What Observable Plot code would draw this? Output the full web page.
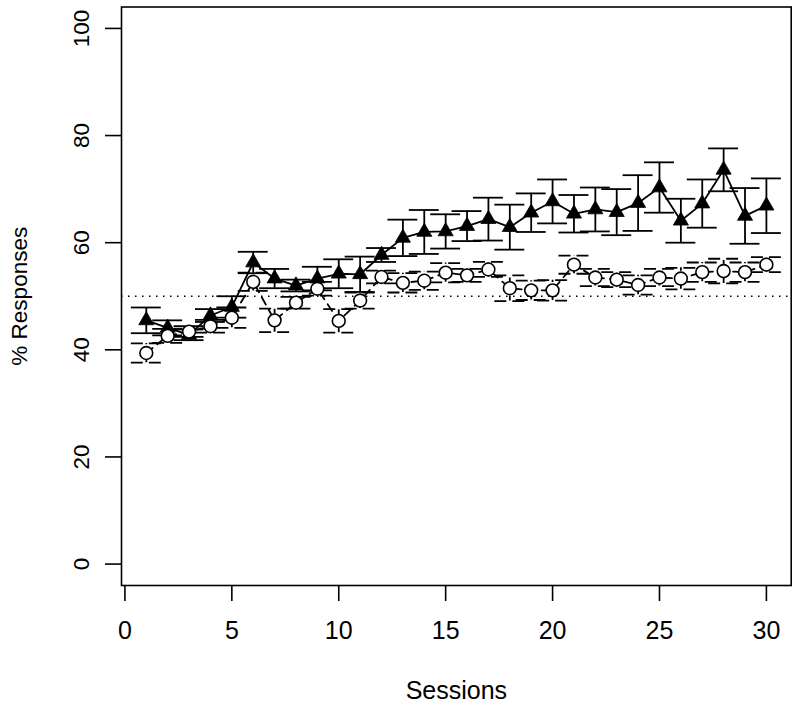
<!DOCTYPE html>
<html>
<head>
<meta charset="utf-8">
<script src="https://cdn.jsdelivr.net/npm/d3@7"></script>
<script src="https://cdn.jsdelivr.net/npm/@observablehq/plot@0.6"></script>
<style>
  html, body { margin: 0; padding: 0; background: #fff; }
  #chart svg { display: block; }
</style>
</head>
<body>
<div id="chart"></div>
<script>
const sessions = [1,2,3,4,5,6,7,8,9,10,11,12,13,14,15,16,17,18,19,20,21,22,23,24,25,26,27,28,29,30];
const triMean = [45.5,44.1,42.8,46.4,48.0,56.3,53.3,52.0,53.3,54.2,54.1,57.7,60.9,62.0,62.1,63.1,64.4,62.9,65.6,67.7,65.4,66.2,65.7,67.4,70.3,64.1,67.3,73.6,65.0,66.9];
const triErr  = [2.4,1.4,1.0,1.2,2.0,2.0,1.8,1.1,2.2,2.7,3.3,1.3,3.4,4.1,3.2,2.8,4.0,4.2,3.6,4.1,3.5,4.1,4.3,5.2,4.7,4.1,4.5,4.0,5.2,5.1];
const circMean = [39.4,42.6,43.4,44.4,46.0,52.7,45.5,48.8,51.4,45.4,49.2,53.6,52.5,52.9,54.4,53.9,55.0,51.5,51.1,51.1,55.9,53.5,53.1,52.1,53.5,53.3,54.5,54.7,54.5,55.9];
const circErr  = [1.8,1.3,1.0,1.2,1.9,1.7,2.2,1.1,1.3,2.2,1.5,1.2,1.8,1.7,1.8,1.2,1.4,2.4,1.8,1.9,1.7,1.6,1.4,1.8,1.6,2.0,1.8,2.3,1.8,1.4];
const xTicks = [0,5,10,15,20,25,30];
const yTicks = [0,20,40,60,80,100];
const chanceLevel = [50];
const xTitle = "Sessions";
const yTitle = "% Responses";

const tri = sessions.map((s, i) => ({s, m: triMean[i], lo: triMean[i] - triErr[i], hi: triMean[i] + triErr[i]}));
const circ = sessions.map((s, i) => ({s, m: circMean[i], lo: circMean[i] - circErr[i], hi: circMean[i] + circErr[i]}));

const capHalf = 0.7;
const font = "'Liberation Sans', Arial, Helvetica, sans-serif";
const lw = 1.8;

const chart = Plot.plot({
  width: 800,
  height: 708,
  marginTop: 6.5,
  marginBottom: 123,
  marginLeft: 121,
  marginRight: 9.3,
  style: {fontFamily: font, background: "#fff", color: "#000"},
  x: {domain: [-0.16, 31.16]},
  y: {domain: [-4, 104]},
  marks: [
    Plot.ruleY(chanceLevel, {stroke: "#000", strokeWidth: 1.4, strokeDasharray: "1.5,5.5"}),
    // triangle series
    Plot.line(tri, {x: "s", y: "m", stroke: "#000", strokeWidth: lw}),
    Plot.ruleX(tri, {x: "s", y1: "lo", y2: "hi", stroke: "#000", strokeWidth: lw}),
    Plot.ruleY(tri, {y: "hi", x1: d => d.s - capHalf, x2: d => d.s + capHalf, stroke: "#000", strokeWidth: lw}),
    Plot.ruleY(tri, {y: "lo", x1: d => d.s - capHalf, x2: d => d.s + capHalf, stroke: "#000", strokeWidth: lw}),
    Plot.dot(tri, {x: "s", y: "m", symbol: "triangle", r: 5.6, fill: "#000", stroke: "#000", strokeWidth: 0.8}),
    // circle series
    Plot.line(circ, {x: "s", y: "m", stroke: "#000", strokeWidth: lw, strokeDasharray: "8,6"}),
    Plot.ruleX(circ, {x: "s", y1: "lo", y2: "hi", stroke: "#000", strokeWidth: lw, strokeDasharray: "5,4"}),
    Plot.ruleY(circ, {y: "hi", x1: d => d.s - capHalf, x2: d => d.s + capHalf, stroke: "#000", strokeWidth: lw, strokeDasharray: "12,6,12"}),
    Plot.ruleY(circ, {y: "lo", x1: d => d.s - capHalf, x2: d => d.s + capHalf, stroke: "#000", strokeWidth: lw, strokeDasharray: "12,6,12"}),
    Plot.dot(circ, {x: "s", y: "m", r: 6.4, fill: "#fff", stroke: "#000", strokeWidth: 1.6}),
    // frame and axes
    Plot.frame({stroke: "#000", strokeWidth: 1.6}),
    Plot.axisX({ticks: xTicks, tickSize: 16, tickPadding: 20, fontSize: 25, label: null, strokeWidth: 1.6}),
    Plot.axisY({ticks: yTicks, tickSize: 16, label: null, tickFormat: () => "", strokeWidth: 1.6}),
    Plot.text(yTicks, {y: d => d, text: d => String(d), frameAnchor: "left", dx: -40, rotate: -90, textAnchor: "middle", lineAnchor: "middle", fontSize: 22.5}),
    Plot.text([yTitle], {text: d => d, frameAnchor: "left", dx: -102, rotate: -90, textAnchor: "middle", lineAnchor: "middle", fontSize: 22.5}),
    Plot.text([xTitle], {text: d => d, frameAnchor: "bottom", dy: 105, textAnchor: "middle", lineAnchor: "middle", fontSize: 25})
  ]
});
document.getElementById("chart").appendChild(chart);
</script>
</body>
</html>
